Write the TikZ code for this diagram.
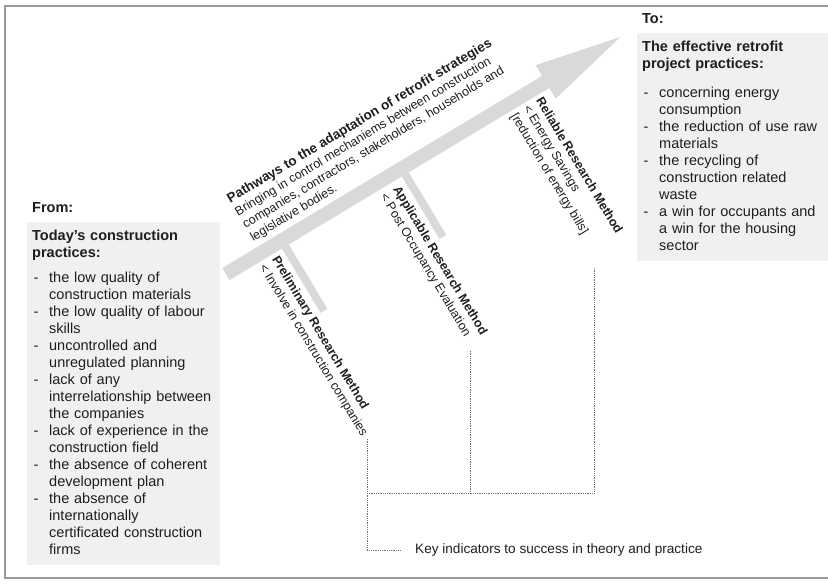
\documentclass[tikz,border=0pt]{standalone}
\usepackage{fontspec}
\setmainfont{Liberation Sans}
\usepackage{xcolor}
\usetikzlibrary{positioning, calc}

\definecolor{panelgray}{HTML}{F0F0F0}
\definecolor{arrowgray}{HTML}{D9D9D9}
\definecolor{framegray}{HTML}{999999}
\definecolor{inkgray}{HTML}{1E1E1E}
\definecolor{dotgray}{HTML}{707070}

\begin{document}
\begin{tikzpicture}[
    x=1pt, y=1pt,
    panel/.style={fill=panelgray, anchor=north west, inner xsep=5pt, inner ysep=6pt, align=left, text=inkgray, font=\fontsize{14.5}{17}\selectfont},
    heading/.style={inner sep=0pt, text=inkgray, font=\fontsize{14.5}{17}\selectfont\bfseries},
    pathtext/.style={inner sep=0pt, align=left, rotate=31, text=inkgray, font=\fontsize{12.5}{14.8}\selectfont},
    method/.style={inner sep=0pt, align=left, rotate=-59, text=inkgray, font=\fontsize{12.5}{14.8}\selectfont},
    keytext/.style={inner sep=0pt, text=inkgray, font=\fontsize{13.6}{16}\selectfont},
    dotline/.style={dotgray, densely dotted, line width=0.8pt}
]
\useasboundingbox (0,0) rectangle (828,-585);

% Frame
\draw[framegray, line width=1.8pt] (828,-6) -- (5,-6) -- (5,-578) -- (828,-578);

% From: today's practices
\node[panel, text width=183pt] (frombox) at (27,-222) {%
\begin{tabular}{@{\hspace{1.5pt}}p{15.5pt}@{}l@{}}
\multicolumn{2}{@{}l@{}}{\bfseries Today's construction}\\
\multicolumn{2}{@{}l@{}}{\bfseries practices:}\\[8pt]
- & the low quality of\\
  & construction materials\\
- & the low quality of labour\\
  & skills\\
- & uncontrolled and\\
  & unregulated planning\\
- & lack of any\\
  & interrelationship between\\
  & the companies\\
- & lack of experience in the\\
  & construction field\\
- & the absence of coherent\\
  & development plan\\
- & the absence of\\
  & internationally\\
  & certificated construction\\
  & firms
\end{tabular}};
\node[heading, above right=9pt and 5pt of frombox.north west, anchor=south west] (fromlbl) {From:};

% To: effective retrofit practices
\node[panel, text width=181pt] (tobox) at (637,-33) {%
\begin{tabular}{@{\hspace{1.5pt}}p{15.5pt}@{}l@{}}
\multicolumn{2}{@{}l@{}}{\bfseries The effective retrofit}\\
\multicolumn{2}{@{}l@{}}{\bfseries project practices:}\\[12pt]
- & concerning energy\\
  & consumption\\
- & the reduction of use raw\\
  & materials\\
- & the recycling of\\
  & construction related\\
  & waste\\
- & a win for occupants and\\
  & a win for the housing\\
  & sector
\end{tabular}};
\node[heading, above right=9pt and 5pt of tobox.north west, anchor=south west] (tolbl) {To:};

% Pathway arrow with its branches
\begin{scope}[shift={(226,-274)}, rotate=31]
  \fill[arrowgray] (0,-7) -- (373,-7) -- (373,-19.5) -- (460,0) -- (373,19.5) -- (373,7) -- (0,7) -- cycle;
  \fill[arrowgray] (61,-7) rectangle (69,-82);
  \fill[arrowgray] (201,-7) rectangle (209,-80);

  \node[pathtext, anchor=south west] (pathway) at (40,11) {{\fontsize{13.5}{14.8}\selectfont\bfseries Pathways to the adaptation of retrofit strategies}\\
    Bringing in control mechaniems between construction\\
    companies, contractors, stakeholders, households and\\
    legislative bodies.};

  \node[method, anchor=north west] (prelim) at (56,-11) {{\bfseries Preliminary Research Method}\\< Involve in construction companies};
  \node[method, anchor=north west] (applic) at (196,-13) {{\bfseries Applicable Research Method}\\< Post Occupancy Evaluation};
  \node[method, anchor=north west] (reliable) at (364,-11) {{\bfseries Reliable Research Method}\\< Energy Savings\\{[}reduction of energy bills{]}};
\end{scope}

% Key indicators
\node[keytext, anchor=west] (key) at (415,-550) {Key indicators to success in theory and practice};

% Dotted bracket
\coordinate (hub) at (367,-493);
\coordinate (atop) at ([xshift=4pt,yshift=-6pt]applic.south east);
\coordinate (rtop) at ([xshift=6pt,yshift=-17pt]reliable.south east);
\draw[dotline] (hub |- prelim.south east) -- (hub |- key.west) -- ([xshift=-15pt]key.west);
\draw[dotline] (hub) -- (hub -| rtop) -- (rtop);
\draw[dotline] (atop) -- (atop |- hub);

\end{tikzpicture}
\end{document}
